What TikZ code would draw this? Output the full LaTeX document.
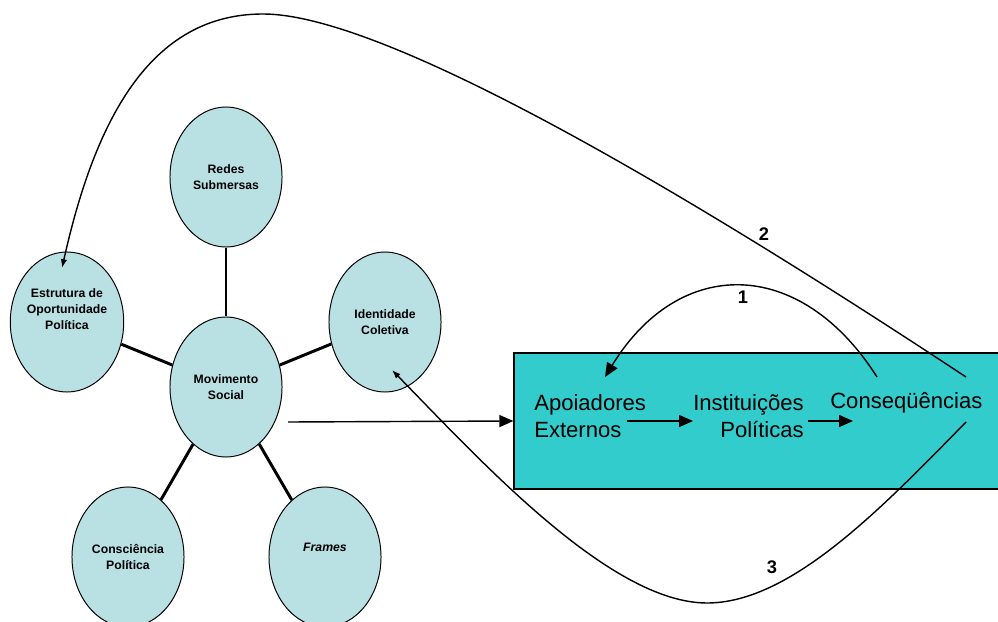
\documentclass[tikz,border=0pt]{standalone}
\usepackage{fontspec}
\setmainfont{Liberation Sans}
\usetikzlibrary{positioning,shapes.geometric,arrows.meta}
\definecolor{bubblefill}{RGB}{185,224,227}
\definecolor{boxfill}{RGB}{51,204,204}
\tikzset{font=\fontsize{8.7}{11.3}\selectfont\bfseries}

\begin{document}
\begin{tikzpicture}[x=0.025cm, y=-0.025cm]
	\useasboundingbox (0,0) rectangle (998,622);
	\tikzstyle{every node}=[align=center, inner sep=1pt]
	\tikzstyle{bubble}=[ellipse, draw, line width=0.7pt, fill=bubblefill, inner sep=0pt, minimum width=2.8cm, minimum height=3.5cm]
	\tikzstyle{spoke}=[line width=2.1pt]
	\tikzstyle{boxtext}=[font=\fontsize{15.7}{19}\selectfont, inner sep=0pt]
	\tikzstyle{num}=[font=\fontsize{13}{15}\selectfont\bfseries]
	\tikzstyle{curve}=[line width=1pt]
	\tikzstyle{bigarrow}=[line width=1pt, -{Triangle[length=0.35cm, width=0.3cm]}]

	% movimento social and its bubbles
	\node[bubble] (rs) at (226,177) {Redes\\Submersas};
	\node[bubble, text depth=0.66cm] (eop) at (67,322) {Estrutura de\\Oportunidade\\Política};
	\node[bubble] (ic) at (385,322) {Identidade\\Coletiva};
	\node[bubble] (ms) at (226,387) {Movimento\\Social};
	\node[bubble] (cp) at (128,557) {Consciência\\Política};
	\node[bubble, text depth=0.5cm] (fr) at (325,557) {\textit{Frames}};

	\draw [spoke] (rs) to (ms);
	\draw [spoke] (eop) to (ms);
	\draw [spoke] (ic) to (ms);
	\draw [spoke] (cp) to (ms);
	\draw [spoke] (fr) to (ms);

	% outcomes box
	\node[draw, line width=0.8pt, fill=boxfill, inner sep=0pt, minimum width=12.2cm, minimum height=3.4cm] (box) at (758,421) {};
	\node[boxtext, anchor=west, align=left] (ae) at (534,416) {Apoiadores\\Externos};
	\node[boxtext, anchor=east, align=right] (ip) at (804,416) {Instituições\\Políticas};
	\node[boxtext, anchor=west] (cq) at (830,403) {Conseqüências};

	\coordinate (msout) at (288,422);
	\coordinate (a1) at (627,421);
	\coordinate (a2) at (808,421);
	\coordinate (a2end) at (853,421);
	\draw [bigarrow] (msout) to (box.west);
	\draw [bigarrow] (a1) to (a1 -| ip.west);
	\draw [bigarrow] (a2) to (a2end);

	% feedback loops
	\coordinate (c1s) at (877,377);
	\coordinate (c1e) at (605,377);
	\coordinate (c2s) at (966,377);
	\coordinate (c2e) at (62,268);
	\coordinate (c3s) at (966,422);
	\coordinate (c3e) at (392,370);

	\draw [bigarrow] (c1s) .. controls (800,256) and (679,256) .. (c1e);
	\draw [curve, -{Latex[length=0.22cm, width=0.16cm]}] (c2s) .. controls (666,179) and (380,14) .. (263,14)
		.. controls (150,14) and (95,120) .. (c2e);
	\draw [curve, -{Latex[length=0.22cm, width=0.16cm]}] (c3s) .. controls (880,510) and (790,603) .. (707,603)
		.. controls (610,603) and (480,460) .. (c3e);

	\node[num] (n1) at (743,297) {1};
	\node[num] (n2) at (764,234) {2};
	\node[num] (n3) at (772,567) {3};
\end{tikzpicture}
\end{document}
